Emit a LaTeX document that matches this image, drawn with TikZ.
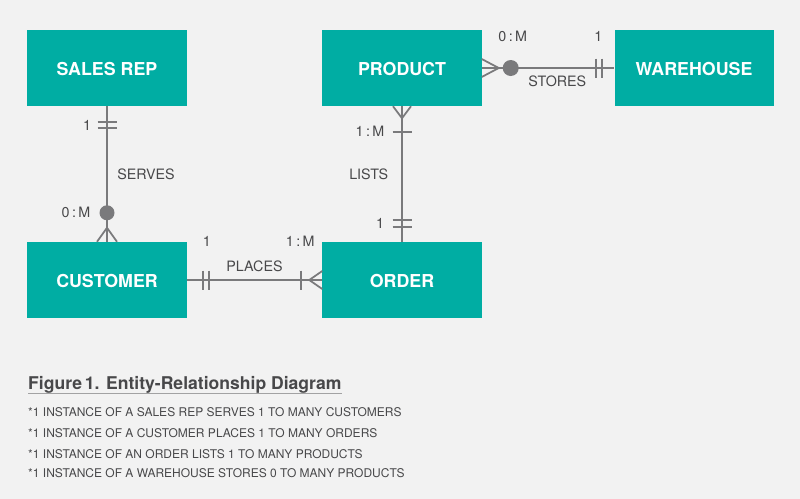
\documentclass[tikz,border=0pt]{standalone}
\usepackage{fontspec}
\setmainfont{TeX Gyre Heros}
\usetikzlibrary{calc}
\definecolor{entityfill}{RGB}{0,173,163}
\definecolor{bggray}{RGB}{242,242,242}
\definecolor{relgray}{RGB}{122,122,124}
\definecolor{txtgray}{RGB}{72,72,74}
\tikzstyle{entity}=[fill=entityfill,text=white,minimum width=4.77cm,minimum height=2.28cm,inner sep=0,text depth=0,font=\fontsize{15.2}{17}\selectfont\bfseries]
\tikzstyle{rel}=[relgray,line width=1.5pt]
\tikzstyle{card}=[txtgray,inner sep=0,font=\fontsize{12.2}{14}\selectfont]
\tikzstyle{note}=[txtgray,inner sep=0,anchor=base west,font=\fontsize{10.25}{12}\selectfont]
% bars across a line at point #1
\newcommand\crossV[1]{\draw[rel] ($#1+(-9.5,0)$) -- ($#1+(9.5,0)$);}
\newcommand\crossH[1]{\draw[rel] ($#1+(0,-9.5)$) -- ($#1+(0,9.5)$);}

\begin{document}
\begin{tikzpicture}[x=0.03cm,y=-0.03cm]
	
	\fill[bggray] (0,0) rectangle (800,499);
	\useasboundingbox (0,0) rectangle (800,499);
	
	% ENTITIES
	\node[entity] (salesrep) at (107,68) {\raisebox{-2pt}{SALES REP}};
	\node[entity] (product) at (402,68) {\raisebox{-2pt}{PRODUCT}};
	\node[entity] (warehouse) at (694,68) {\raisebox{-2pt}{WAREHOUSE}};
	\node[entity] (customer) at (107,280) {\raisebox{-2pt}{CUSTOMER}};
	\node[entity] (order) at (402,280) {\raisebox{-2pt}{ORDER}};
	
	% LINES
	\draw[rel] (salesrep) -- (customer) node[card,pos=0.5,right=8] {SERVES};
	\draw[rel] (customer) -- (order) node[card,midway,above=6] {PLACES};
	\draw[rel] (product) -- (order) node[card,midway,left=11] {LISTS};
	\draw[rel] (product) -- (warehouse) node[card,midway,below=6,xshift=8] {STORES};
	
	% SALES REP -- CUSTOMER
	\crossV{(salesrep.south)+(0,16)}
	\crossV{(salesrep.south)+(0,22)}
	\fill[relgray] ($(customer.north)+(0,-29)$) circle (7.5);
	\draw[rel] ($(customer.north)+(0,-14)$) -- ($(customer.north)+(-10,0)$);
	\draw[rel] ($(customer.north)+(0,-14)$) -- ($(customer.north)+(10,0)$);
	\node[card] (srone) at ($(salesrep.south)+(-20,19)$) {1};
	\node[card] (cuzero) at ($(customer.north)+(-31,-29)$) {0\,:\,M};
	
	% CUSTOMER -- ORDER
	\crossH{(customer.east)+(16,0)}
	\crossH{(customer.east)+(22,0)}
	\crossH{(order.west)+(-21,0)}
	\draw[rel] ($(order.west)+(-13,0)$) -- ($(order.west)+(0,-9)$);
	\draw[rel] ($(order.west)+(-13,0)$) -- ($(order.west)+(0,9)$);
	\node[card] (cuone) at ($(customer.east)+(20,-39)$) {1};
	\node[card] (ormany) at ($(order.west)+(-22,-39)$) {1\,:\,M};
	
	% PRODUCT -- ORDER
	\draw[rel] ($(product.south)+(0,12)$) -- ($(product.south)+(-9,0)$);
	\draw[rel] ($(product.south)+(0,12)$) -- ($(product.south)+(9,0)$);
	\crossV{(product.south)+(0,26)}
	\crossV{(order.north)+(0,-22)}
	\crossV{(order.north)+(0,-15)}
	\node[card] (prmany) at ($(product.south)+(-32,25)$) {1\,:\,M};
	\node[card] (orone) at ($(order.north)+(-22,-18)$) {1};
	
	% PRODUCT -- WAREHOUSE
	\draw[rel] ($(product.east)+(17,0)$) -- ($(product.east)+(0,-9)$);
	\draw[rel] ($(product.east)+(17,0)$) -- ($(product.east)+(0,9)$);
	\fill[relgray] ($(product.east)+(29,0)$) circle (8);
	\crossH{(warehouse.west)+(-18,0)}
	\crossH{(warehouse.west)+(-12,0)}
	\node[card] (prmanyw) at ($(product.east)+(31,-32)$) {0\,:\,M};
	\node[card] (whone) at ($(warehouse.west)+(-16,-32)$) {1};
	
	% CAPTION
	\node[txtgray,inner sep=0,anchor=base west,font=\fontsize{15}{17}\selectfont\bfseries] (caption) at (28,389) {Figure\,1. Entity-Relationship Diagram};
	\draw[relgray!70,line width=0.8pt] ($(caption.base west)+(0,4)$) -- ($(caption.base east)+(0,4)$);
	\node[note] (noteA) at (28,416) {*1 INSTANCE OF A SALES REP SERVES 1 TO MANY CUSTOMERS};
	\node[note] (noteB) at (28,437) {*1 INSTANCE OF A CUSTOMER PLACES 1 TO MANY ORDERS};
	\node[note] (noteC) at (28,458) {*1 INSTANCE OF AN ORDER LISTS 1 TO MANY PRODUCTS};
	\node[note] (noteD) at (28,477) {*1 INSTANCE OF A WAREHOUSE STORES 0 TO MANY PRODUCTS};
	
\end{tikzpicture}
\end{document}
